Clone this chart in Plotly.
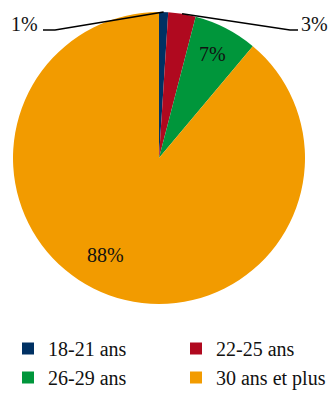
import math
import plotly.graph_objects as go

# Age bands and their share of the population (%)
categories = ["18-21 ans", "22-25 ans", "26-29 ans", "30 ans et plus"]
shares = [1, 3, 7, 88]
labels = ["1%", "3%", "7%", "88%"]
colors = ["#003163", "#b0091f", "#00963b", "#f29b00"]

W, H = 331, 394
FONT = "Liberation Serif"

# Pie geometry in pixels
CX, CY, R = 159, 158, 146

fig = go.Figure(
    go.Pie(
        labels=categories,
        values=shares,
        sort=False,
        direction="clockwise",
        rotation=0,
        marker=dict(colors=colors, line=dict(width=0)),
        textinfo="none",
        hoverinfo="label+percent",
        domain=dict(x=[(CX - R) / W, (CX + R) / W],
                    y=[1 - (CY + R) / H, 1 - (CY - R) / H]),
    )
)


def px_to_paper(x, y):
    return x / W, 1 - y / H


total = sum(shares)
cum = 0
mid_angles = []
for v in shares:
    mid_angles.append((cum + v / 2) / total * 2 * math.pi)
    cum += v

# Slices labelled inside: radial fraction of the label and small angular nudge (deg)
inside = {2: (0.80, 0.0), 3: (0.76, 9.0)}
# Slices labelled outside with a leader line: elbow point, end of the
# horizontal tail, and which side the text sits on
outside = {0: ((55, 30), 43, "left"), 1: ((290, 30), 298, "right")}

annotations = []
shapes = []
for i, ang in enumerate(mid_angles):
    if i in inside:
        rf, nudge = inside[i]
        a = ang + math.radians(nudge)
        x = CX + rf * R * math.sin(a)
        y = CY - rf * R * math.cos(a)
        px, py = px_to_paper(x, y)
        annotations.append(dict(x=px, y=py, xref="paper", yref="paper",
                                xanchor="center", yanchor="middle",
                                text=labels[i], showarrow=False,
                                font=dict(family=FONT, size=20, color="#111")))
    else:
        (ex, ey), hx, side = outside[i]
        sx = CX + R * math.sin(ang)
        sy = CY - R * math.cos(ang)
        p = [px_to_paper(sx, sy), px_to_paper(ex, ey), px_to_paper(hx, ey)]
        path = "M {} {} L {} {} L {} {}".format(p[0][0], p[0][1], p[1][0], p[1][1],
                                               p[2][0], p[2][1])
        shapes.append(dict(type="path", path=path, xref="paper", yref="paper",
                           line=dict(color="black", width=1.5)))
        tx, ty = px_to_paper(hx - 4 if side == "left" else hx + 2, ey - 5.5)
        annotations.append(dict(x=tx, y=ty, xref="paper", yref="paper",
                                text=labels[i], showarrow=False,
                                xanchor="right" if side == "left" else "left",
                                yanchor="middle", borderpad=0,
                                font=dict(family=FONT, size=20, color="#111")))

fig.update_layout(
    width=W, height=H,
    margin=dict(l=0, r=0, t=0, b=0, pad=0, autoexpand=False),
    paper_bgcolor="white",
    plot_bgcolor="white",
    font=dict(family=FONT, size=20, color="#111"),
    showlegend=True,
    legend=dict(
        orientation="h",
        x=8 / W, y=1 - 329 / H, xanchor="left", yanchor="top",
        entrywidth=0.5075, entrywidthmode="fraction",
        font=dict(family=FONT, size=20, color="#111"),
        traceorder="normal",
        itemclick=False,
        bgcolor="rgba(0,0,0,0)",
    ),
    annotations=annotations,
    shapes=shapes,
)

fig.write_html("out.html")
